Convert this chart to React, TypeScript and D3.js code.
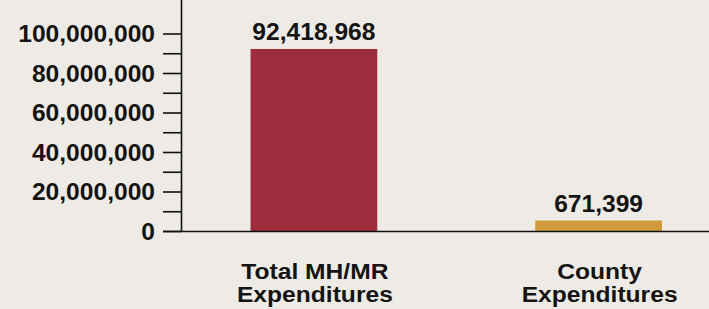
import * as d3 from 'd3';

// chart data
const categories = ['Total MH/MR Expenditures', 'County Expenditures'];
const categoryLines = [['Total MH/MR', 'Expenditures'], ['County', 'Expenditures']];
const values = [92418968, 671399];
const barColors = ['#9d2c3c', '#d19a3b'];
const majorTicks = [0, 20000000, 40000000, 60000000, 80000000, 100000000];
const minorTicks = [10000000, 30000000, 50000000, 70000000, 90000000];

const W = 709;
const H = 309;
const FONT = '"Liberation Sans", Arial, Helvetica, sans-serif';
const MIN_BAR = 11; // tiny values still get a visible bar

export default function App() {
    const axisX = 181.5;
    const baseY = 231.5;

    const y = d3.scaleLinear().domain([0, 100000000]).range([baseY, 34]);
    const x = d3.scaleBand<string>()
        .domain(categories)
        .range([axisX, 731])
        .paddingInner(0.555)
        .paddingOuter(0.2425);

    const fmt = d3.format(',');

    // original lettering is a bit wide, so text gets a horizontal stretch
    const label = (tx: number, ty: number, text: string, anchor: string, key?: string | number,
        size = 23, stretch = 1.07) => (
        <g key={key} transform={`translate(${tx},${ty}) scale(${stretch},1)`}>
            <text textAnchor={anchor} fontFamily={FONT} fontWeight="bold" fontSize={size} fill="#141414">
                {text}
            </text>
        </g>
    );

    return (
        <svg width={W} height={H} style={{ position: 'fixed', left: 0, top: 0 }}>
            <rect width={W} height={H} fill="#eeebe6" />

            {/* bars */}
            {categories.map((c, i) => {
                const h = Math.max(baseY - y(values[i]), MIN_BAR);
                const bx = x(c) ?? 0;
                return (
                    <g key={c}>
                        <rect x={bx} y={baseY - h} width={x.bandwidth()} height={h} fill={barColors[i]} />
                        {label(bx + x.bandwidth() / 2, baseY - h - 9, fmt(values[i]), 'middle')}
                    </g>
                );
            })}

            {/* y axis */}
            <line x1={axisX} x2={axisX} y1={0} y2={baseY} stroke="#111" strokeWidth={1.6} />
            {[...majorTicks, ...minorTicks].map(t => (
                <line key={t} x1={163} x2={axisX} y1={y(t)} y2={y(t)} stroke="#111" strokeWidth={1.6} />
            ))}
            {majorTicks.map(t => label(155, y(t) + 8, fmt(t), 'end', t))}

            {/* baseline */}
            <line x1={163} x2={W} y1={baseY} y2={baseY} stroke="#111" strokeWidth={1.6} />

            {/* category labels */}
            {categories.map((c, i) => {
                const cx = (x(c) ?? 0) + x.bandwidth() / 2;
                return categoryLines[i].map((line, j) =>
                    label(cx + 1, 279 + j * 23, line, 'middle', `${c}-${j}`, 21.5, 1.145));
            })}
        </svg>
    );
}
